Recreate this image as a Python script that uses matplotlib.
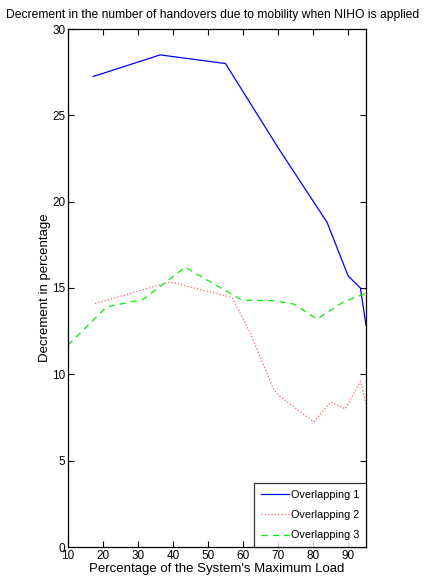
import matplotlib
matplotlib.use("Agg")
import matplotlib.pyplot as plt

plt.rcParams.update({
    "font.family": ["Liberation Sans", "DejaVu Sans"], "font.size": 8.5,
    "axes.linewidth": 0.9,
})

# Overlapping 1
x1 = [17.2, 36.3, 54.9, 70.0, 83.9, 89.9, 93.4, 95.0]
y1 = [27.25, 28.5, 28.0, 23.1, 18.8, 15.7, 15.0, 12.85]
# Overlapping 2
x2 = [17.7, 39.1, 56.8, 62.0, 68.7, 70.6, 80.1, 84.9, 89.1, 91.5, 93.4, 95.0]
y2 = [14.1, 15.35, 14.45, 12.4, 9.1, 8.7, 7.25, 8.4, 8.0, 8.9, 9.6, 8.3]
# Overlapping 3
x3 = [10.0, 21.0, 31.5, 43.4, 59.6, 68.7, 74.4, 81.0, 88.6, 95.0]
y3 = [11.7, 13.9, 14.35, 16.2, 14.3, 14.26, 14.07, 13.2, 14.2, 14.7]

fig = plt.figure(figsize=(4.25, 5.79), dpi=100)
ax = fig.add_axes([68 / 425, 32 / 579, 298 / 425, 518 / 579])

ax.plot(x1, y1, color="#0000ff", lw=0.9, ls="-", label="Overlapping 1")
ax.plot(x2, y2, color="#ff6060", lw=0.9, ls=":", label="Overlapping 2")
ax.plot(x3, y3, color="#00ee00", lw=0.9, ls="--", dashes=(5, 4), label="Overlapping 3")

ax.set_xlim(10, 95)
ax.set_ylim(0, 30)
ax.set_xticks(range(10, 100, 10))
ax.set_yticks(range(0, 35, 5))
ax.tick_params(direction="in", top=True, right=True, length=4, width=0.8, pad=2)

ax.set_xlabel("Percentage of the System's Maximum Load", fontsize=9.5, labelpad=1)
ax.set_ylabel("Decrement in percentage", fontsize=9.5)
ax.yaxis.set_label_coords(-0.056, 0.5)
fig.suptitle("Decrement in the number of handovers due to mobility when NIHO is applied",
             fontsize=8.7, y=0.985)

leg = ax.legend(loc="lower right", frameon=True, fancybox=False, edgecolor="black",
                fontsize=7.8, borderaxespad=0, handlelength=2.6, labelspacing=0.95,
                borderpad=0.6, handletextpad=0.2)
leg.get_frame().set_linewidth(0.9)

fig.savefig("out.png", dpi=100)
